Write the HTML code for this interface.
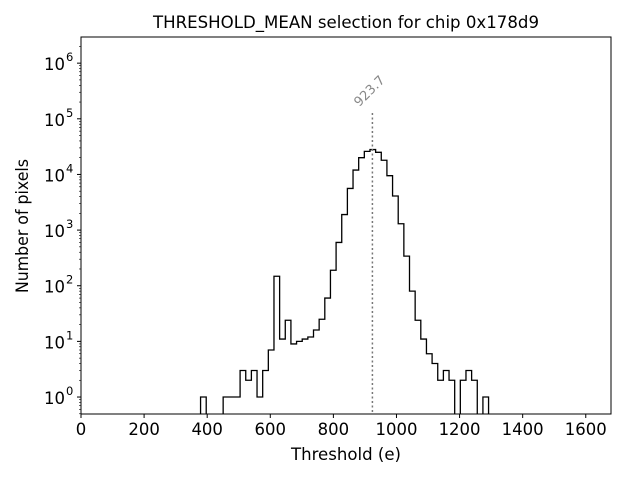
<!DOCTYPE html>
<html><head><meta charset="utf-8"><style>
body{margin:0;background:#fff;}
svg text{font-family:"DejaVu Sans","Liberation Sans",sans-serif;}
</style></head><body>
<svg id="chart" width="640" height="480" xmlns="http://www.w3.org/2000/svg">
<rect width="640" height="480" fill="#fff"/>
<text x="346" y="28" font-size="16.5" text-anchor="middle" textLength="386" lengthAdjust="spacingAndGlyphs">THRESHOLD_MEAN selection for chip 0x178d9</text>
<g id="plot"></g>
<text x="346" y="460" font-size="16.5" text-anchor="middle" textLength="110" lengthAdjust="spacingAndGlyphs">Threshold (e)</text>
<text transform="translate(28,226) rotate(-90)" font-size="16.5" text-anchor="middle" textLength="134" lengthAdjust="spacingAndGlyphs">Number of pixels</text>
</svg>
<script>
const binStart = 379;
const binWidth = 17.9;
const counts = [1,0,0,0,1,1,1,3,2,3,1,3,7,148,11,24,9,10,11,12,16,25,60,
190,600,1900,5600,12000,20000,26000,28000,25000,18000,9500,4100,1300,340,80,24,11,6,4,2,3,2,0,2,3,2,0,1];
const meanValue = 923.7;
const xTicks = [0,200,400,600,800,1000,1200,1400,1600];
const yExps = [0,1,2,3,4,5,6];

const L=81,R=611,T=37,B=414;
const xMin=0,xMax=1680, yMinLog=-0.305, yMaxLog=6.47;
const xs=v=>L+(v-xMin)/(xMax-xMin)*(R-L);
const ys=v=>B-(Math.log10(v)-yMinLog)/(yMaxLog-yMinLog)*(B-T);
const NS="http://www.w3.org/2000/svg";
const g=document.getElementById('plot');
function mk(tag,attrs,parent){const e=document.createElementNS(NS,tag);for(const k in attrs)e.setAttribute(k,attrs[k]);(parent||g).appendChild(e);return e;}

let d='';
const floorY=B+2;
counts.forEach((c,i)=>{
  const x0=xs(binStart+i*binWidth), x1=xs(binStart+(i+1)*binWidth);
  const y=c>0?ys(c):floorY;
  if(i===0) d+=`M${x0},${floorY}`;
  d+=`L${x0},${y}L${x1},${y}`;
});
d+=`L${xs(binStart+counts.length*binWidth)},${floorY}`;
const cp=mk('clipPath',{id:'clip'});mk('rect',{x:L,y:T,width:R-L,height:B-T},cp);
const hist=mk('path',{d:d,fill:'none',stroke:'#000','stroke-width':1.3,'clip-path':'url(#clip)'});



const mx=xs(meanValue);
const ml=mk('line',{x1:mx,x2:mx,y1:113,y2:B,stroke:'#777','stroke-width':1.5,'stroke-dasharray':'2,2.5'});


const mt=mk('text',{x:mx,y:94,'font-size':13,fill:'#888',transform:`rotate(-45 ${mx} 94)`,'text-anchor':'middle'});


mt.textContent=meanValue.toFixed(1);

const fr=mk('rect',{x:L,y:T,width:R-L,height:B-T,fill:'none',stroke:'#000','stroke-width':1});



xTicks.forEach(v=>{
  const x=xs(v);
  mk('line',{x1:x,x2:x,y1:B,y2:B+4,stroke:'#000'});
  const t=mk('text',{x:x,y:B+21,'font-size':16.5,'text-anchor':'middle'});
  
  
  t.textContent=v;
});
yExps.forEach(e=>{
  const y=ys(Math.pow(10,e));
  mk('line',{x1:L-4,x2:L,y1:y,y2:y,stroke:'#000'});
  const t=mk('text',{x:L-16,y:y+7,'font-size':16.5,'text-anchor':'end'});
  
  
  t.textContent='10';
  const s=mk('text',{x:L-15,y:y-2,'font-size':11.5});
  s.textContent=e;
  for(let m=2;m<10;m++){
    const v=m*Math.pow(10,e);const yy=ys(v);
    if(yy>=T&&yy<=B) mk('line',{x1:L-2,x2:L,y1:yy,y2:yy,stroke:'#000','stroke-width':0.6});
  }
});
[0.5,0.6,0.7,0.8,0.9].forEach(v=>{const yy=ys(v);if(yy<=B)mk('line',{x1:L-2,x2:L,y1:yy,y2:yy,stroke:'#000','stroke-width':0.6});});
</script>
</body></html>
